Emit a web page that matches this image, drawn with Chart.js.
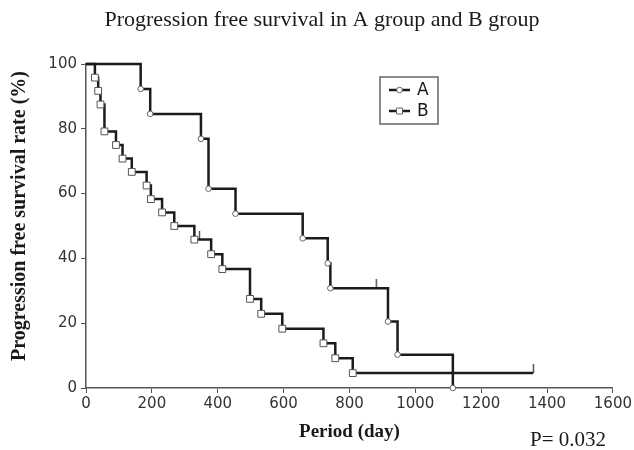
<!DOCTYPE html>
<html>
<head>
<meta charset="utf-8">
<script src="https://cdn.jsdelivr.net/npm/chart.js@4/dist/chart.umd.min.js"></script>
<style>
  html, body { margin: 0; padding: 0; background: #fff; }
  #wrap { width: 634px; height: 450px; position: relative; }
</style>
</head>
<body>
<div id="wrap"><canvas id="km"></canvas></div>
<script>
// Kaplan-Meier steps (day, % progression free)
var groupNames = ["A", "B"];
var aDays = [0, 166, 195, 349, 372, 454, 658, 734, 742, 917, 946, 1114];
var aSurv = [100, 92.3, 84.6, 76.9, 61.5, 53.8, 46.2, 38.5, 30.8, 20.5, 10.3, 0];
var aCensorDays = [881];
var aCensorSurv = [30.8];
var bDays = [0, 27, 37, 44, 56, 91, 111, 139, 184, 197, 231, 268, 329, 380, 414, 498, 532, 596, 721, 757, 810, 1358];
var bSurv = [100, 95.8, 91.7, 87.5, 79.2, 75.0, 70.8, 66.7, 62.5, 58.3, 54.2, 50.0, 45.8, 41.3, 36.7, 27.5, 22.9, 18.3, 13.8, 9.2, 4.6, 4.6];
var bCensorDays = [344, 1358];
var bCensorSurv = [45.8, 4.6];
var xTicks = [0, 200, 400, 600, 800, 1000, 1200, 1400, 1600];
var yTicks = [0, 20, 40, 60, 80, 100];

var titleText = "Progression free survival in A group and B group";
var xTitle = "Period (day)";
var yTitle = "Progression free survival rate (%)";
var pText = "P= 0.032";

var lineColor = "#1b1b1b";
var axisColor = "#555";

function toPoints(xs, ys) {
  var out = [];
  for (var i = 0; i < xs.length; i++) out.push({ x: xs[i], y: ys[i] });
  return out;
}

// small vertical tick sitting on top of the line, for censored cases
function censorMark(h) {
  var c = document.createElement("canvas");
  c.width = 3;
  c.height = h * 2;
  var g = c.getContext("2d");
  g.fillStyle = "#333";
  g.fillRect(1, 0, 1.2, h);
  return c;
}

var marksPlugin = {
  id: "marks",
  afterDraw: function (chart) {
    var ctx = chart.ctx;
    var area = chart.chartArea;
    ctx.save();
    ctx.fillStyle = "#1a1a1a";
    ctx.textAlign = "center";
    ctx.textBaseline = "middle";

    ctx.font = "22px 'Liberation Serif'";
    ctx.fillText(titleText, 322, 20);

    ctx.font = "bold 19px 'Liberation Serif'";
    ctx.fillText(xTitle, (area.left + area.right) / 2, 432);

    ctx.save();
    ctx.translate(20, (area.top + area.bottom) / 2 - 10);
    ctx.rotate(-Math.PI / 2);
    ctx.font = "bold 20px 'Liberation Serif'";
    ctx.fillText(yTitle, 0, 0);
    ctx.restore();

    ctx.font = "21px 'Liberation Serif'";
    ctx.textAlign = "left";
    ctx.fillText(pText, 530, 440);

    // legend box
    var bx = 380, by = 77, bw = 58, bh = 47;
    ctx.strokeStyle = "#666";
    ctx.lineWidth = 1.5;
    ctx.strokeRect(bx, by, bw, bh);
    var rows = [90, 111];
    for (var i = 0; i < 2; i++) {
      ctx.strokeStyle = lineColor;
      ctx.lineWidth = 2.5;
      ctx.beginPath();
      ctx.moveTo(389, rows[i]);
      ctx.lineTo(410, rows[i]);
      ctx.stroke();
      ctx.fillStyle = "#fff";
      ctx.strokeStyle = "#666";
      ctx.lineWidth = 1;
      ctx.beginPath();
      if (i === 0) ctx.arc(399.5, rows[i], 2.8, 0, Math.PI * 2);
      else ctx.rect(396.5, rows[i] - 3, 6, 6);
      ctx.fill();
      ctx.stroke();
      ctx.fillStyle = "#1a1a1a";
      ctx.font = "17px 'DejaVu Sans'";
      ctx.textAlign = "left";
      ctx.fillText(groupNames[i], 417, rows[i] + 1);
    }
    ctx.restore();
  }
};

function markerRadius(r, skipLast) {
  return function (c) {
    var n = c.dataset.data.length;
    if (c.dataIndex === 0) return 0;
    if (skipLast && c.dataIndex === n - 1) return 0;
    return r;
  };
}

function plainTick(v) { return String(v); }

new Chart(document.getElementById("km"), {
  type: "line",
  data: {
    datasets: [
      {
        label: groupNames[0],
        data: toPoints(aDays, aSurv),
        stepped: "before",
        borderColor: lineColor,
        borderWidth: 2.5,
        pointStyle: "circle",
        pointRadius: markerRadius(2.8, false),
        pointBackgroundColor: "#fff",
        pointBorderColor: "#666",
        pointBorderWidth: 1,
        clip: false
      },
      {
        label: groupNames[1],
        data: toPoints(bDays, bSurv),
        stepped: "before",
        borderColor: lineColor,
        borderWidth: 2.5,
        pointStyle: "rect",
        pointRadius: markerRadius(4.8, true),
        pointBackgroundColor: "#fff",
        pointBorderColor: "#555",
        pointBorderWidth: 1,
        clip: false
      },
      {
        label: "censored",
        type: "scatter",
        data: toPoints(aCensorDays.concat(bCensorDays), aCensorSurv.concat(bCensorSurv)),
        showLine: false,
        pointStyle: censorMark(9),
        pointRadius: 5,
        clip: false
      }
    ]
  },
  options: {
    responsive: true,
    maintainAspectRatio: false,
    animation: false,
    layout: { padding: { top: 64, right: 21, left: 0, bottom: 0 } },
    plugins: {
      legend: { display: false },
      title: { display: false },
      tooltip: { enabled: false }
    },
    scales: {
      x: {
        type: "linear",
        min: 0,
        max: 1600,
        afterBuildTicks: function (s) { s.ticks = xTicks.map(function (v) { return { value: v }; }); },
        afterFit: function (s) { s.height = 62; },
        border: { color: axisColor, width: 1.5 },
        grid: { drawOnChartArea: false, drawTicks: true, tickLength: 5, color: axisColor },
        ticks: { color: "#333", font: { family: "'DejaVu Sans'", size: 15 }, padding: 2, maxRotation: 0, callback: plainTick }
      },
      y: {
        type: "linear",
        min: 0,
        max: 100,
        afterBuildTicks: function (s) { s.ticks = yTicks.map(function (v) { return { value: v }; }); },
        afterFit: function (s) { s.width = 86; },
        border: { color: axisColor, width: 1.5 },
        grid: { drawOnChartArea: false, drawTicks: true, tickLength: 5, color: axisColor },
        ticks: { color: "#333", font: { family: "'DejaVu Sans'", size: 15 }, padding: 4, callback: plainTick }
      }
    }
  },
  plugins: [marksPlugin]
});
</script>
</body>
</html>
